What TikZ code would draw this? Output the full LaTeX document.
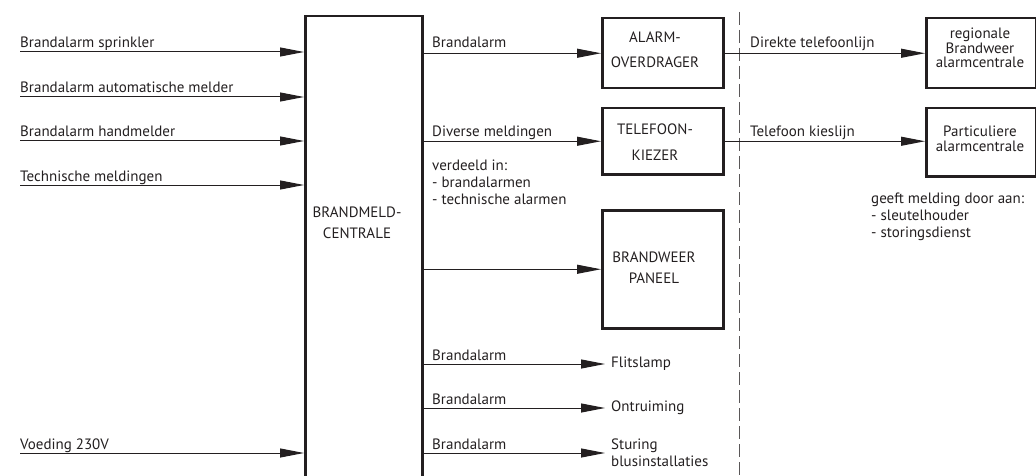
\documentclass[tikz,border=0pt]{standalone}
\usepackage{fontspec}
\setmainfont{PT Sans}
\usetikzlibrary{arrows.meta}
\definecolor{ink}{RGB}{35,31,32}
\begin{document}
\begin{tikzpicture}[x=1pt,y=-1pt,
  every node/.style={font=\fontsize{15}{17}\selectfont, text=ink, inner sep=0pt},
  box/.style={draw=ink, line width=2.5pt, inner sep=0pt},
  boxtext/.style={align=center},
  arr/.style={draw=ink, line width=1pt, -{Triangle[length=24pt,width=9pt]}},
  lab/.style={anchor=base west},
  multi/.style={anchor=north west, align=left, font=\fontsize{15}{16.8}\selectfont},
  dash line/.style={draw=ink!75, line width=0.8pt, dash pattern=on 13pt off 5pt},
]
\useasboundingbox (0,0) rectangle (1036,476);

% central unit
\node[box, minimum width=117pt, minimum height=520pt, anchor=north west] (bmc) at (304,15) {};
\node[boxtext, font=\fontsize{15}{21}\selectfont] (bmct) at (357,223) {BRANDMELD-\\CENTRALE};

% boxes
\node[box, minimum width=121pt, minimum height=70pt, anchor=north west] (ao) at (601,17) {};
\node[boxtext, font=\fontsize{15}{25}\selectfont] (aot) at (655,50) {ALARM-\\OVERDRAGER};
\node[box, minimum width=121pt, minimum height=66pt, anchor=north west] (tk) at (601,107) {};
\node[boxtext, font=\fontsize{15}{26}\selectfont] (tkt) at (655,142) {TELEFOON-\\KIEZER};
\node[box, minimum width=121pt, minimum height=118pt, anchor=north west] (bp) at (601,209) {};
\node[boxtext, font=\fontsize{15}{21}\selectfont] (bpt) at (654,268) {BRANDWEER\\PANEEL};
\node[box, minimum width=110pt, minimum height=70pt, anchor=north west] (rb) at (925,17) {};
\node[boxtext, font=\fontsize{15}{14.5}\selectfont] (rbt) at (980,48) {regionale\\Brandweer\\alarmcentrale};
\node[box, minimum width=110pt, minimum height=68pt, anchor=north west] (pa) at (925,107) {};
\node[boxtext, font=\fontsize{15}{15}\selectfont] (pat) at (980,139) {Particuliere\\alarmcentrale};

% dashed separator
\coordinate (d1) at (739,12);
\coordinate (d2) at (739,480);
\draw[dash line] (d1) -- (d2);

% inputs
\coordinate (i1) at (20,52);
\coordinate (i2) at (20,97);
\coordinate (i3) at (20,141);
\coordinate (i4) at (20,185);
\coordinate (i5) at (20,453);
\draw[arr] (i1) -- (i1 -| bmc.west);
\draw[arr] (i2) -- (i2 -| bmc.west);
\draw[arr] (i3) -- (i3 -| bmc.west);
\draw[arr] (i4) -- (i4 -| bmc.west);
\draw[arr] (i5) -- (i5 -| bmc.west);
\node[lab] (l1) at (20,48) {Brandalarm sprinkler};
\node[lab] (l2) at (20,93) {Brandalarm automatische melder};
\node[lab] (l3) at (20,137) {Brandalarm handmelder};
\node[lab] (l4) at (20,181) {Technische meldingen};
\node[lab] (l5) at (20,449) {Voeding 230V};

% outputs
\draw[arr] (bmc.east |- ao.west) -- (ao.west);
\draw[arr] (bmc.east |- tk.west) -- (tk.west);
\draw[arr] (bmc.east |- bp.west) -- (bp.west);
\node[lab] (o1) at (432,48) {Brandalarm};
\node[lab] (o2) at (432,137) {Diverse meldingen};
\node[multi] (o2b) at (432,160) {verdeeld in:\\- brandalarmen\\- technische alarmen};

\node[anchor=west, inner xsep=6pt] (fl) at (605,364) {Flitslamp};
\node[anchor=west, inner xsep=6pt] (on) at (605,408) {Ontruiming};
\node[anchor=west, inner xsep=6pt, align=left, font=\fontsize{15}{17}\selectfont] (st) at (605,453) {Sturing\\blusinstallaties};
\draw[arr] (bmc.east |- fl.west) -- (fl.west);
\draw[arr] (bmc.east |- on.west) -- (on.west);
\draw[arr] (bmc.east |- st.west) -- (st.west);
\node[lab] (o4) at (432,360) {Brandalarm};
\node[lab] (o5) at (432,404) {Brandalarm};
\node[lab] (o6) at (432,449) {Brandalarm};

% right side
\draw[arr] (ao.east) -- (ao.east -| rb.west);
\draw[arr] (tk.east) -- (tk.east -| pa.west);
\node[lab] (r1) at (750,48) {Direkte telefoonlijn};
\node[lab] (r2) at (750,137) {Telefoon kieslijn};
\node[multi] (r3) at (871,193) {geeft melding door aan:\\- sleutelhouder\\- storingsdienst};
\end{tikzpicture}
\end{document}
